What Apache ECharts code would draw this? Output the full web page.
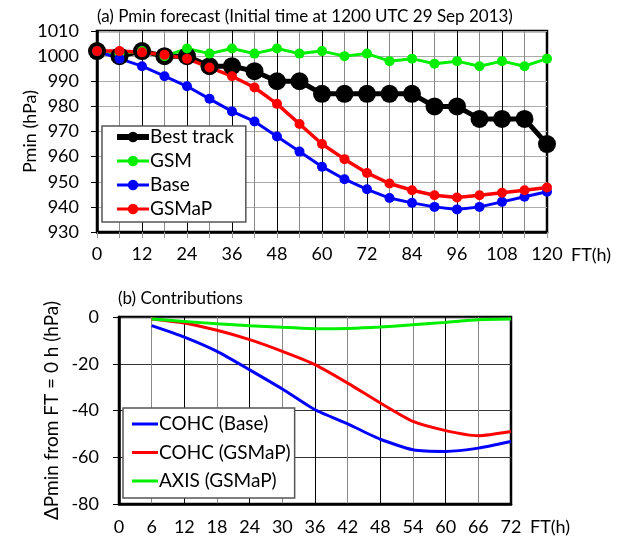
<!DOCTYPE html>
<html>
<head>
<meta charset="utf-8">
<script src="https://cdn.jsdelivr.net/npm/echarts@6/dist/echarts.min.js"></script>
<style>
  html, body { margin: 0; padding: 0; background: #fff; }
  #chart { width: 624px; height: 540px; }
</style>
</head>
<body>
<div id="chart"></div>
<script>
// (a) forecast hours and Pmin (hPa)
var ftA = [0, 6, 12, 18, 24, 30, 36, 42, 48, 54, 60, 66, 72, 78, 84, 90, 96, 102, 108, 114, 120];
var bestTrack = [1002, 1000, 1002, 1000, 1000, 996, 996, 994, 990, 990, 985, 985, 985, 985, 985, 980, 980, 975, 975, 975, 965];
var gsm = [1002, 1001, 1002, 1000, 1003, 1001, 1003, 1001, 1003, 1001, 1002, 1000, 1001, 998, 999, 997, 998, 996, 998, 996, 999];
var base = [1002, 999, 996, 992, 988, 983, 978, 974, 968, 962, 956, 951, 947, 943.5, 941.6, 940, 939, 940, 942, 944, 946];
var gsmap = [1002, 1002, 1001.5, 1000.5, 999, 995.5, 992, 987.5, 981, 973, 965, 959, 953.5, 949.3, 946.6, 944.6, 943.7, 944.6, 945.6, 946.6, 947.7];

// (b) contributions, dPmin from FT = 0 h (hPa)
var ftB = [6, 12, 18, 24, 30, 36, 42, 48, 54, 60, 66, 72];
var cohcBase = [-3.7, -8.6, -14.7, -22.6, -30.8, -39.7, -45.7, -52.3, -56.8, -57.5, -56.1, -53.3];
var cohcGsmap = [-0.9, -2.6, -5.7, -9.7, -14.7, -20.4, -28.3, -36.8, -44.7, -48.6, -50.8, -49];
var axisGsmap = [-0.9, -1.9, -2.9, -3.7, -4.4, -5.0, -4.9, -4.3, -3.3, -2.3, -1.2, -0.9];

function pairs(xs, ys) {
  return xs.map(function (x, i) { return [x, ys[i]]; });
}

var font = 'Lato, "Open Sans", sans-serif';
var green = '#00f000';
var chart = echarts.init(document.getElementById('chart'));

var option = {
  animation: false,
  textStyle: { fontFamily: font, color: '#000' },
  graphic: [
    { type: 'text', left: 97, top: 8,
      style: { text: '(a) Pmin forecast (Initial time at 1200 UTC 29 Sep 2013)', fontSize: 17, fontFamily: font, fill: '#000' } },
    { type: 'text', left: 118, top: 290,
      style: { text: '(b) Contributions', fontSize: 17, fontFamily: font, fill: '#000' } }
  ],
  grid: [
    { left: 97, top: 31, width: 450, height: 201, show: true, borderColor: '#000', borderWidth: 2.5 },
    { left: 119, top: 317, width: 392, height: 187, show: true, borderColor: '#000', borderWidth: 2.5 }
  ],
  xAxis: [
    {
      gridIndex: 0, type: 'value', min: 0, max: 120, interval: 6,
      name: 'FT(h)', nameLocation: 'end', nameGap: 24,
      nameTextStyle: { fontSize: 18, verticalAlign: 'top', padding: [14, 0, 0, 0] },
      axisLine: { onZero: false, lineStyle: { color: '#000', width: 2.5 } },
      axisTick: { show: true, length: 6, lineStyle: { color: '#999' } },
      axisLabel: { fontSize: 18, color: '#000', margin: 13,
        formatter: function (v) { return v % 12 === 0 ? String(v) : ''; } },
      splitLine: { show: true, lineStyle: { color: ['#000', '#888'], width: 1 } }
    },
    {
      gridIndex: 1, type: 'value', min: 0, max: 72, interval: 6,
      name: 'FT(h)', nameLocation: 'end', nameGap: 19,
      nameTextStyle: { fontSize: 18, verticalAlign: 'top', padding: [14, 0, 0, 0] },
      axisLine: { onZero: false, lineStyle: { color: '#000', width: 2.5 } },
      axisTick: { show: false },
      axisLabel: { fontSize: 18, color: '#000', margin: 14 },
      splitLine: { show: true, lineStyle: { color: ['#000', '#888'], width: 1 } }
    }
  ],
  yAxis: [
    {
      gridIndex: 0, type: 'value', min: 930, max: 1010, interval: 10,
      name: 'Pmin (hPa)', nameLocation: 'middle', nameGap: 58, nameRotate: 90, nameMoveOverlap: false,
      nameTextStyle: { fontSize: 18 },
      axisLine: { show: true, onZero: false, lineStyle: { color: '#000', width: 2.5 } },
      axisTick: { show: true, length: 6, lineStyle: { color: '#000' } },
      axisLabel: { fontSize: 18, color: '#000', margin: 18, formatter: function (v) { return String(v); } },
      splitLine: { show: true, lineStyle: { color: '#aaa', width: 1 } }
    },
    {
      gridIndex: 1, type: 'value', min: -80, max: 0, interval: 20,
      name: 'ΔPmin from FT = 0 h (hPa)', nameLocation: 'middle', nameGap: 58, nameRotate: 90, nameMoveOverlap: false,
      nameTextStyle: { fontSize: 19 },
      axisLine: { show: true, onZero: false, lineStyle: { color: '#000', width: 2.5 } },
      axisTick: { show: true, length: 6, lineStyle: { color: '#000' } },
      axisLabel: { fontSize: 18, color: '#000', margin: 20 },
      splitLine: { show: true, lineStyle: { color: '#333', width: 1 } }
    }
  ],
  legend: [
    {
      data: [
        { name: 'Best track', lineStyle: { width: 6 } },
        { name: 'GSM', lineStyle: { width: 3 } },
        { name: 'Base', lineStyle: { width: 3 } },
        { name: 'GSMaP', lineStyle: { width: 3 } }
      ],
      orient: 'vertical', left: 102, top: 126,
      backgroundColor: '#fff', borderColor: '#555', borderWidth: 1.5,
      padding: [0, 12, 2, 12], itemWidth: 32, itemHeight: 13, itemGap: 2,
      textStyle: { fontSize: 19, lineHeight: 22, color: '#000', padding: [0, 0, 0, -4] }
    },
    {
      data: [
        { name: 'COHC (Base)', icon: 'rect' },
        { name: 'COHC (GSMaP)', icon: 'rect' },
        { name: 'AXIS (GSMaP)', icon: 'rect' }
      ],
      orient: 'vertical', left: 123, top: 408,
      backgroundColor: '#fff', borderColor: '#555', borderWidth: 1.5,
      padding: [4, 4, 5, 9], itemWidth: 26, itemHeight: 3, itemGap: 4.5,
      textStyle: { fontSize: 19, lineHeight: 24, color: '#000', padding: [0, 0, 0, -4] }
    }
  ],
  series: [
    { name: 'Best track', type: 'line', xAxisIndex: 0, yAxisIndex: 0, data: pairs(ftA, bestTrack),
      symbol: 'circle', symbolSize: 18, lineStyle: { color: '#000', width: 5 }, itemStyle: { color: '#000' } },
    { name: 'GSM', type: 'line', xAxisIndex: 0, yAxisIndex: 0, data: pairs(ftA, gsm),
      symbol: 'circle', symbolSize: 10, lineStyle: { color: green, width: 3 }, itemStyle: { color: green } },
    { name: 'Base', type: 'line', xAxisIndex: 0, yAxisIndex: 0, data: pairs(ftA, base),
      symbol: 'circle', symbolSize: 10, lineStyle: { color: '#0000ff', width: 3 }, itemStyle: { color: '#0000ff' } },
    { name: 'GSMaP', type: 'line', xAxisIndex: 0, yAxisIndex: 0, data: pairs(ftA, gsmap),
      symbol: 'circle', symbolSize: 10, lineStyle: { color: '#ff0000', width: 3.5 }, itemStyle: { color: '#ff0000' } },
    { name: 'COHC (Base)', type: 'line', xAxisIndex: 1, yAxisIndex: 1, data: pairs(ftB, cohcBase),
      symbol: 'none', smooth: 0.2, lineStyle: { color: '#0000ff', width: 3 }, itemStyle: { color: '#0000ff' } },
    { name: 'COHC (GSMaP)', type: 'line', xAxisIndex: 1, yAxisIndex: 1, data: pairs(ftB, cohcGsmap),
      symbol: 'none', smooth: 0.2, lineStyle: { color: '#ff0000', width: 3 }, itemStyle: { color: '#ff0000' } },
    { name: 'AXIS (GSMaP)', type: 'line', xAxisIndex: 1, yAxisIndex: 1, data: pairs(ftB, axisGsmap),
      symbol: 'none', smooth: 0.2, lineStyle: { color: green, width: 3 }, itemStyle: { color: green } }
  ]
};

chart.setOption(option);
</script>
</body>
</html>
